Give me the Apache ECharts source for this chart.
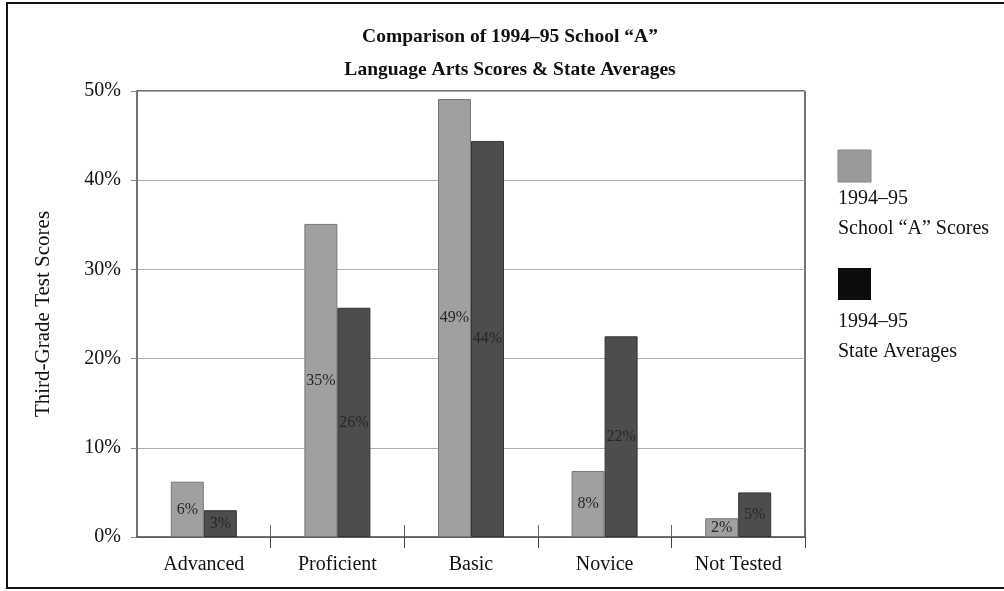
<!DOCTYPE html>
<html>
<head>
<meta charset="utf-8">
<script src="https://cdn.jsdelivr.net/npm/echarts@6/dist/echarts.min.js"></script>
<style>
html,body{margin:0;padding:0;background:#fff;}
#chart{width:1004px;height:591px;}
</style>
</head>
<body>
<div id="chart"></div>
<script>
const categories = ['Advanced', 'Proficient', 'Basic', 'Novice', 'Not Tested'];
const schoolScores = [6.2, 35.1, 49.1, 7.4, 2.1];
const schoolLabels = ['6%', '35%', '49%', '8%', '2%'];
const stateAverages = [3.0, 25.7, 44.4, 22.5, 5.0];
const stateLabels = ['3%', '26%', '44%', '22%', '5%'];
const yTicks = [0, 10, 20, 30, 40, 50];
const seriesNames = ['1994–95 School “A” Scores', '1994–95 State Averages'];

const FONT = '"Liberation Serif", "DejaVu Serif", serif';
const chart = echarts.init(document.getElementById('chart'));

function mk(name, values, labels, color, border) {
  return {
    name: name,
    type: 'bar',
    barWidth: 33,
    barGap: '0%',
    data: values,
    itemStyle: { color: color, borderColor: border, borderWidth: 1 },
    label: {
      show: true, position: 'inside', fontFamily: FONT, fontSize: 16,
      color: '#262626',
      formatter: p => labels[p.dataIndex]
    }
  };
}

chart.setOption({
  backgroundColor: '#fff',
  animation: false,
  title: {
    text: 'Comparison of 1994–95 School “A”\nLanguage Arts Scores & State Averages',
    left: 505, top: 15, textAlign: 'center',
    textStyle: { fontFamily: FONT, fontSize: 19.5, fontWeight: 'bold', color: '#111', lineHeight: 33 }
  },
  grid: { left: 137, top: 91, width: 668, height: 446, containLabel: false },
  xAxis: [{
    type: 'category', data: categories,
    axisLine: { show: true, lineStyle: { color: '#444', width: 1.5 } },
    axisTick: { show: true, length: 11, lineStyle: { color: '#444' }, interval: i => i > 0 },
    axisLabel: { fontFamily: FONT, fontSize: 20, color: '#111', margin: 18, interval: 0 }
  }, {
    type: 'category', data: categories, position: 'bottom',
    axisLine: { show: false },
    axisTick: { show: true, inside: true, length: 12, lineStyle: { color: '#666' }, interval: i => i > 0 },
    axisLabel: { show: false }
  }],
  yAxis: {
    type: 'value', min: 0, max: 50, interval: 10,
    name: 'Third-Grade Test Scores', nameLocation: 'middle', nameGap: 83,
    nameTextStyle: { fontFamily: FONT, fontSize: 21, color: '#111' },
    axisLine: { show: true, lineStyle: { color: '#444', width: 1.5 } },
    axisTick: { show: true, length: 6, lineStyle: { color: '#888' } },
    axisLabel: { fontFamily: FONT, fontSize: 20, color: '#111', margin: 16,
      formatter: v => yTicks.includes(v) ? v + '%' : '' },
    splitLine: { show: true, lineStyle: { color: '#b0b0b0', width: 1 } }
  },
  series: [
    mk(seriesNames[0], schoolScores, schoolLabels, '#a0a0a0', '#777'),
    mk(seriesNames[1], stateAverages, stateLabels, '#4d4d4d', '#333')
  ],
  graphic: [
    { type: 'rect', shape: { x: 7, y: 3, width: 1000, height: 585 }, style: { fill: 'none', stroke: '#111', lineWidth: 2 }, silent: true },
    { type: 'rect', shape: { x: 805, y: 91, width: 0, height: 446 }, style: { fill: 'none', stroke: '#444', lineWidth: 1.5 }, silent: true },
    { type: 'rect', shape: { x: 137, y: 91, width: 668, height: 0 }, style: { fill: 'none', stroke: '#444', lineWidth: 1.5 }, silent: true },
    { type: 'rect', shape: { x: 838, y: 150, width: 33, height: 32 }, style: { fill: '#9a9a9a', stroke: '#888' } },
    { type: 'text', left: 838, top: 184, style: { text: '1994–95\nSchool “A” Scores', font: '20px ' + FONT, fill: '#111', lineHeight: 30 } },
    { type: 'rect', shape: { x: 838, y: 268, width: 33, height: 32 }, style: { fill: '#0c0c0c' } },
    { type: 'text', left: 838, top: 307, style: { text: '1994–95\nState Averages', font: '20px ' + FONT, fill: '#111', lineHeight: 30 } }
  ]
});
</script>
</body>
</html>
